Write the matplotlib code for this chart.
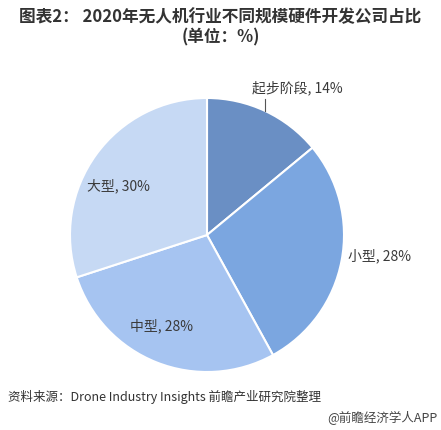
import numpy as np
import matplotlib.pyplot as plt

plt.rcParams['font.family'] = ['Noto Sans CJK SC', 'DejaVu Sans']

# data
categories = ['起步阶段', '小型', '中型', '大型']
shares = [14, 28, 28, 30]
colors = ['#6a8fc4', '#7ba6e0', '#a6c4f1', '#c6d9f4']

fig = plt.figure(figsize=(4.41, 4.30), dpi=100)
fig.patch.set_facecolor('white')

# pie axes: center ~ (207, 235) px, radius ~137 px
cx, cy, r = 207, 235, 137
W, H = 441, 430
ax = fig.add_axes([(cx - r) / W, (H - cy - r) / H, 2 * r / W, 2 * r / H])
wedges, _ = ax.pie(shares, colors=colors, startangle=90, counterclock=False,
                   radius=1.0, wedgeprops=dict(edgecolor='white', linewidth=1.5))
ax.set_xlim(-1, 1)
ax.set_ylim(-1, 1)
ax.set_aspect('equal')
ax.axis('off')

txt_color = '#3a3a3a'
# small angular nudges for the inside labels (degrees)
nudge = {'中型': -5, '大型': 7}
for w, name, val in zip(wedges, categories, shares):
    mid_deg = (w.theta1 + w.theta2) / 2
    label = f'{name}, {val}%'
    mid = np.deg2rad(mid_deg)
    x, y = np.cos(mid), np.sin(mid)
    if name == '起步阶段':
        ax.plot([x, x], [y, 0.99], color='#555555', lw=0.8, clip_on=False)
        ax.text(0.33, 1.07, label, ha='left', va='center', fontsize=10,
                color=txt_color)
    elif name == '小型':
        ax.text(1.03, y * 1.25 + 0.08, label, ha='left', va='center',
                fontsize=10, color=txt_color)
    else:
        m = np.deg2rad(mid_deg + nudge[name])
        ax.text(np.cos(m) * 0.74, np.sin(m) * 0.74, label, ha='center',
                va='center', fontsize=10, color=txt_color)

fig.text(0.5, 1 - 17 / H, '图表2： 2020年无人机行业不同规模硬件开发公司占比',
         ha='center', va='center', fontsize=12, fontweight='bold', color='#333333')
fig.text(0.5, 1 - 37 / H, '(单位：%)', ha='center', va='center',
         fontsize=12, fontweight='bold', color='#333333')

fig.text(8 / W, 1 - 397 / H, '资料来源：Drone Industry Insights 前瞻产业研究院整理',
         ha='left', va='center', fontsize=9, color='#333333')
fig.text(438 / W, 1 - 418 / H, '@前瞻经济学人APP',
         ha='right', va='center', fontsize=9, color='#444444')

fig.savefig('out.png', dpi=100)
